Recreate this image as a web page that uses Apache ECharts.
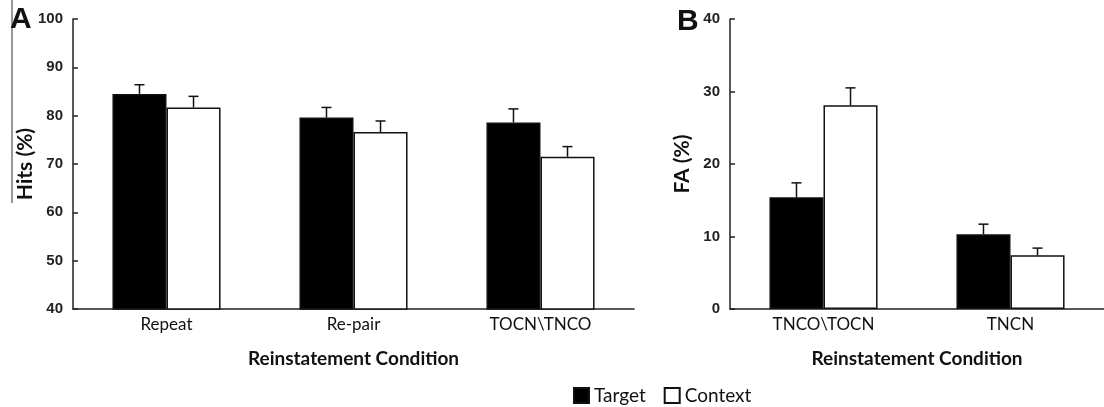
<!DOCTYPE html>
<html><head><meta charset="utf-8">
<script src="https://cdn.jsdelivr.net/npm/echarts@6/dist/echarts.min.js"></script>
<style>html,body{margin:0;padding:0;background:#fff}#c{width:1104px;height:407px}</style>
</head><body><div id="c"></div>
<script>
// Panel A: Hits (%)
const catsA = ['Repeat', 'Re-pair', 'TOCN\\TNCO'];
const targetA = [84.5, 79.6, 78.6];
const targetAErr = [1.9, 2.1, 2.8];
const contextA = [81.7, 76.6, 71.5];
const contextAErr = [2.3, 2.3, 2.1];
const ticksA = [40, 50, 60, 70, 80, 90, 100];
// Panel B: FA (%)
const catsB = ['TNCO\\TOCN', 'TNCN'];
const targetB = [15.4, 10.3];
const targetBErr = [2.0, 1.4];
const contextB = [28.1, 7.4];
const contextBErr = [2.4, 1.0];
const ticksB = [0, 10, 20, 30, 40];

const FONT = 'Lato';
const BARW = 0.289;

function errSeries(name, xi, yi, vals, errs, side) {
  return {
    type: 'custom', name: name + '_err', xAxisIndex: xi, yAxisIndex: yi, z: 5,
    silent: true, legendHoverLink: false,
    data: vals.map((v, i) => [i, v, v + errs[i]]),
    renderItem: function (params, api) {
      const band = api.size([1, 0])[0];
      const off = side * band * BARW / 2;
      const p0 = api.coord([api.value(0), api.value(1)]);
      const p1 = api.coord([api.value(0), api.value(2)]);
      const x = p0[0] + off;
      const st = { stroke: '#111', lineWidth: 1.5 };
      return { type: 'group', children: [
        { type: 'line', shape: { x1: x, y1: p0[1], x2: x, y2: p1[1] }, style: st },
        { type: 'line', shape: { x1: x - 5, y1: p1[1], x2: x + 5, y2: p1[1] }, style: st }
      ]};
    }
  };
}

function barSeries(name, xi, yi, vals, fill) {
  return {
    type: 'bar', name: name, xAxisIndex: xi, yAxisIndex: yi,
    data: vals, barWidth: (BARW * 100) + '%', barGap: '0%',
    itemStyle: { color: fill, borderColor: '#111', borderWidth: 1.5 }
  };
}

function xAx(gi, cats) {
  return {
    type: 'category', gridIndex: gi, data: cats,
    axisLine: { lineStyle: { color: '#222', width: 1.5 } },
    axisTick: { show: false },
    axisLabel: { color: '#111', fontFamily: FONT, fontSize: 17, margin: 7 },
    name: 'Reinstatement Condition', nameLocation: 'middle', nameGap: 40,
    nameMoveOverlap: false,
    nameTextStyle: { color: '#111', fontFamily: FONT, fontSize: 19, fontWeight: 'bold' }
  };
}
function yAx(gi, ticks, name, gap) {
  return {
    type: 'value', gridIndex: gi, min: ticks[0], max: ticks[ticks.length - 1],
    interval: ticks[1] - ticks[0],
    axisLine: { show: true, lineStyle: { color: '#222', width: 1.5 } },
    axisTick: { show: true, inside: true, length: 5, lineStyle: { color: '#222', width: 1.5 } },
    splitLine: { show: false },
    axisLabel: { color: '#222', fontFamily: 'Liberation Sans', fontSize: 15, fontWeight: 'bold', margin: 10 },
    name: name, nameLocation: 'middle', nameGap: gap, nameRotate: 90,
    nameMoveOverlap: false,
    nameTextStyle: { color: '#111', fontFamily: FONT, fontSize: 21, fontWeight: 'bold' }
  };
}

const chart = echarts.init(document.getElementById('c'), null, { renderer: 'canvas' });
chart.setOption({
  animation: false,
  backgroundColor: '#fff',
  grid: [
    { left: 73, top: 19, width: 561, height: 290 },
    { left: 730, top: 19, width: 378, height: 290 }
  ],
  xAxis: [xAx(0, catsA), xAx(1, catsB)],
  yAxis: [yAx(0, ticksA, 'Hits (%)', 37), yAx(1, ticksB, 'FA (%)', 37)],
  legend: {
    left: 568, top: 381, itemWidth: 15, itemHeight: 15, itemGap: 18,
    icon: 'rect', data: ['Target', 'Context'],
    textStyle: { color: '#111', fontFamily: FONT, fontSize: 19 }
  },
  graphic: [
    { type: 'line', shape: { x1: 12, y1: 0, x2: 12, y2: 203 }, style: { stroke: '#333', lineWidth: 1 } },
    { type: 'text', left: 10, top: 5, style: { text: 'A', font: 'bold 30px "Liberation Sans"', fill: '#111' } },
    { type: 'text', left: 677, top: 7, style: { text: 'B', font: 'bold 30px "Liberation Sans"', fill: '#111' } }
  ],
  series: [
    barSeries('Target', 0, 0, targetA, '#000'),
    barSeries('Context', 0, 0, contextA, '#fff'),
    errSeries('Target', 0, 0, targetA, targetAErr, -1),
    errSeries('Context', 0, 0, contextA, contextAErr, 1),
    barSeries('Target', 1, 1, targetB, '#000'),
    barSeries('Context', 1, 1, contextB, '#fff'),
    errSeries('Target', 1, 1, targetB, targetBErr, -1),
    errSeries('Context', 1, 1, contextB, contextBErr, 1)
  ]
});
</script></body></html>
